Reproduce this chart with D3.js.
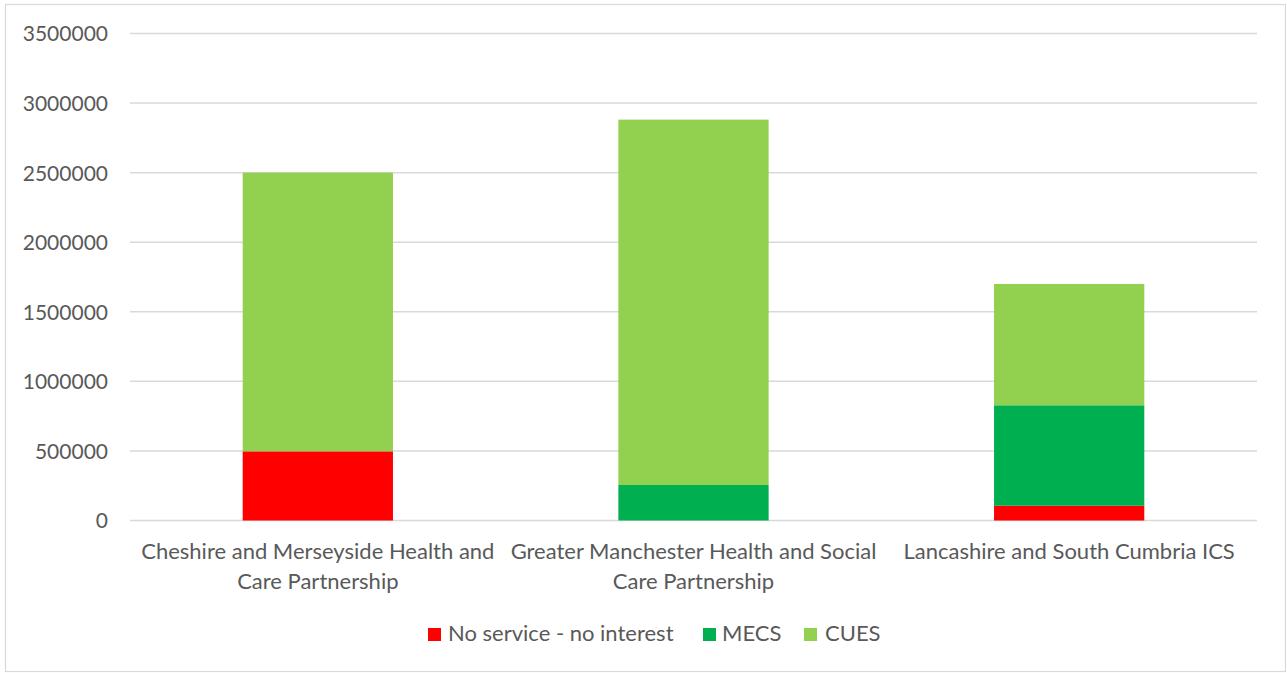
<!DOCTYPE html>
<html>
<head>
<meta charset="utf-8">
<script src="https://cdn.jsdelivr.net/npm/d3@7/dist/d3.min.js"></script>
<style>
  html, body { margin: 0; padding: 0; background: #fff; }
  svg { display: block; }
  text { font-family: Lato, "Open Sans", sans-serif; fill: #595959; }
</style>
</head>
<body>
<script>
const categories = [
  ["Cheshire and Merseyside Health and", "Care Partnership"],
  ["Greater Manchester Health and Social", "Care Partnership"],
  ["Lancashire and South Cumbria ICS"]
];
const seriesNames = ["No service - no interest", "MECS", "CUES"];
const noService = [497000, 0, 106000];
const mecs = [0, 255000, 722000];
const cues = [2003000, 2626000, 872000];
const yTicks = [0, 500000, 1000000, 1500000, 2000000, 2500000, 3000000, 3500000];
const colors = ["#FF0000", "#00B050", "#92D050"];

const W = 1287, H = 673;
const svg = d3.select("body").append("svg").attr("width", W).attr("height", H);

svg.append("rect").attr("x", 5.5).attr("y", 4.5).attr("width", 1280).attr("height", 667)
  .attr("fill", "#fff").attr("stroke", "#d9d9d9").attr("stroke-width", 1.2);

const pLeft = 130, pRight = 1257, pTop = 33.5, pBottom = 520.5;
const x = d3.scaleBand().domain(d3.range(categories.length)).range([pLeft, pRight]).paddingInner(0.6).paddingOuter(0.3);
const y = d3.scaleLinear().domain([0, 3500000]).range([pBottom, pTop]);

// gridlines
svg.append("g").selectAll("line").data(yTicks).join("line")
  .attr("x1", pLeft).attr("x2", pRight)
  .attr("y1", d => y(d)).attr("y2", d => y(d))
  .attr("stroke", "#d9d9d9").attr("stroke-width", 1.5);

// y axis labels
const yAxis = d3.axisLeft(y).tickValues(yTicks).tickSize(0).tickPadding(0).tickFormat(d3.format("d"));
const yg = svg.append("g").attr("transform", `translate(108,0)`).call(yAxis);
yg.select(".domain").remove();
yg.selectAll("text").attr("font-size", 21).attr("font-family", "Lato, sans-serif").attr("fill", "#595959").attr("dy", "0.35em");

// stacked data
const rows = categories.map((c, i) => ({ i, s0: noService[i], s1: mecs[i], s2: cues[i] }));
const stack = d3.stack().keys(["s0", "s1", "s2"])(rows);

svg.append("g").selectAll("g").data(stack).join("g")
  .attr("fill", (d, k) => colors[k])
  .selectAll("rect").data(d => d).join("rect")
  .attr("x", d => x(d.data.i))
  .attr("width", x.bandwidth())
  .attr("y", d => y(d[1]))
  .attr("height", d => y(d[0]) - y(d[1]));

// category labels
const xg = svg.append("g");
categories.forEach((lines, i) => {
  const cx = x(i) + x.bandwidth() / 2;
  const t = xg.append("text").attr("text-anchor", "middle").attr("font-size", 22);
  lines.forEach((ln, j) => {
    t.append("tspan").attr("x", cx).attr("y", 559 + j * 30).text(ln);
  });
});

// legend
const legendItems = [
  { name: seriesNames[0], sx: 428, tx: 448 },
  { name: seriesNames[1], sx: 703, tx: 722 },
  { name: seriesNames[2], sx: 804, tx: 825 }
];
const lg = svg.append("g");
legendItems.forEach((it, k) => {
  lg.append("rect").attr("x", it.sx).attr("y", 628).attr("width", 13).attr("height", 13).attr("fill", colors[k]);
  lg.append("text").attr("x", it.tx).attr("y", 641).attr("font-size", 22).text(it.name);
});
</script>
</body>
</html>
